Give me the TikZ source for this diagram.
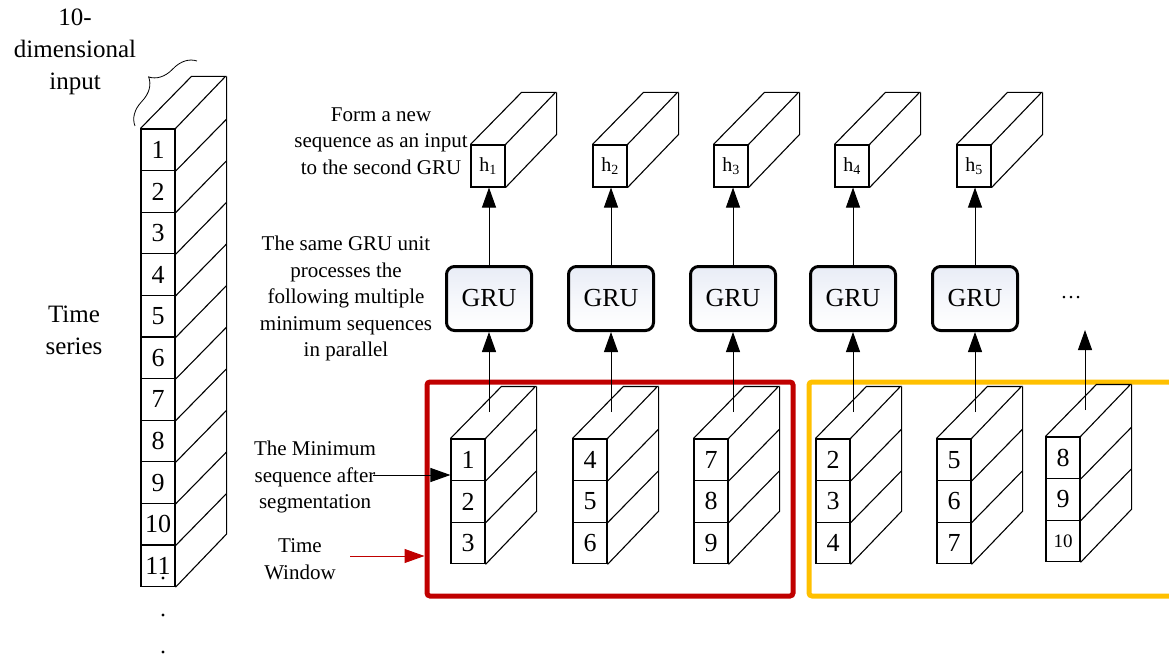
\documentclass[tikz,border=0pt]{standalone}
\usepackage{fontspec}
\setmainfont{Liberation Serif}
\usetikzlibrary{arrows.meta, decorations.pathreplacing}
\definecolor{winRed}{HTML}{C00000}
\definecolor{winYellow}{HTML}{FFC000}
\definecolor{gruFill}{HTML}{E8ECF6}

\begin{document}
\begin{tikzpicture}[x=1pt, y=-1pt,
  cube/.style={line width=1.1pt},
  cell/.style={draw, cube, minimum width=34pt, minimum height=41.6pt, inner sep=0pt, font=\fontsize{26}{26}\selectfont},
  hcell/.style={cell, minimum height=42pt, font=\fontsize{20}{20}\selectfont},
  gru/.style={draw, line width=3pt, rounded corners=8pt, minimum width=85pt, minimum height=64pt,
    shading=axis, shading angle=135, top color=gruFill, bottom color=white, middle color=white!60!gruFill,
    font=\fontsize{26}{26}\selectfont},
  note/.style={align=center, font=\fontsize{21}{26.5}\selectfont},
  big/.style={align=center, font=\fontsize{25}{32}\selectfont},
  up/.style={line width=1pt, -{Triangle[length=20pt,width=14pt]}},
  window/.style={line width=5pt, rounded corners=3pt, minimum width=366pt, minimum height=214pt},
]
\useasboundingbox (0,0) rectangle (1169,655);

\def\W{34}
\def\H{41.6}
\def\Dx{51}
\def\Dy{52}

% long input column
\foreach \i in {1,...,11}
  \node[cell] (t\i) at (141+\W/2, {129+(\i-0.5)*\H}) {\i};
\draw[cube] (t1.north west) -- ++(\Dx,-\Dy) -- ++(\W,0) -- (t1.north east);
\draw[cube] (t1.north east) ++(\Dx,-\Dy) -- ++(0,11*\H) -- (t11.south east);
\foreach \i in {1,...,10}
  \draw[cube] (t\i.south east) -- ++(\Dx,-\Dy);
\foreach \y in {578,615,652}
  \fill (163,\y) circle (1.6pt);

\draw[line width=0.8pt, decorate, decoration={brace, amplitude=24pt}] (135,126) -- (197,61);
\node[big] (lab-in) at (75,52) {10-\\dimensional\\input};
\node[big] (lab-ts) at (74,330) {Time\\series};

% windows
\node[window, draw=winRed] (win1) at (610,489) {};
\node[window, draw=winYellow, minimum width=400pt] (win2) at (1009,489) {};

% minimum sequences
\foreach \k/\x/\y/\a/\b/\c/\fs in {1/451/439/1/2/3/26, 2/573/439/4/5/6/26, 3/694/439/7/8/9/26,
    4/816/439/2/3/4/26, 5/937/439/5/6/7/26, 6/1046/437/8/9/10/19} {
  \node[cell] (s\k-1) at (\x+\W/2, \y+0.5*\H) {\a};
  \node[cell] (s\k-2) at (\x+\W/2, \y+1.5*\H) {\b};
  \node[cell, font=\fontsize{\fs}{\fs}\selectfont] (s\k-3) at (\x+\W/2, \y+2.5*\H) {\c};
  \draw[cube] (s\k-1.north west) -- ++(\Dx,-\Dy) -- ++(\W,0) -- (s\k-1.north east);
  \draw[cube] (s\k-1.north east) ++(\Dx,-\Dy) -- ++(0,3*\H) -- (s\k-3.south east);
  \draw[cube] (s\k-1.south east) -- ++(\Dx,-\Dy);
  \draw[cube] (s\k-2.south east) -- ++(\Dx,-\Dy);
}

% GRU units and outputs
\foreach \k/\x/\hx in {1/489/471, 2/611/593, 3/733/714, 4/853/835, 5/975/957} {
  \node[hcell] (h\k) at (\hx+\W/2, 166) {h\textsubscript{\k}};
  \draw[cube] (h\k.north west) -- ++(\Dx,-\Dy) -- ++(\W,0) -- (h\k.north east);
  \draw[cube] (h\k.north east) ++(\Dx,-\Dy) -- ++(0,42) -- (h\k.south east);
  \node[gru] (g\k) at (\x,298.5) {GRU};
  \coordinate (in\k) at (\x,412);
  \draw[up] (in\k) -- (g\k.south);
  \draw[up] (g\k.north) -- (g\k.north |- h\k.south);
}
\coordinate (in6) at (1085,410);
\coordinate (out6) at (1085,330);
\draw[up] (in6) -- (out6);
\node[note] (more) at (1071,298) {\dots};

% labels
\node[note] (lab-form) at (381,141) {Form a new\\sequence as an input\\to the second GRU};
\node[note] (lab-same) at (346,298.5) {The same GRU unit\\processes the\\following multiple\\minimum sequences\\in parallel};
\node[note] (lab-min) at (315,477) {The Minimum\\sequence after\\segmentation};
\node[note] (lab-tw) at (300,559) {Time\\Window};

\coordinate (ms) at (373,475);
\draw[up] (ms) -- (ms -| s1-1.west);
\coordinate (tw) at (350,556);
\draw[winRed, line width=1pt, -{Triangle[length=20pt,width=14pt]}] (tw) -- (tw -| win1.west);
\end{tikzpicture}
\end{document}
